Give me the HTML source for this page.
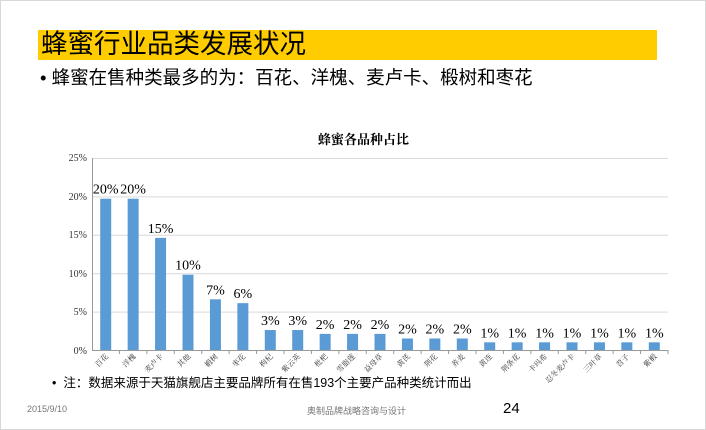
<!DOCTYPE html>
<html><head><meta charset="utf-8"><style>
body{margin:0;width:706px;height:430px;background:#fff;overflow:hidden;position:relative;font-family:"Liberation Sans","Noto Sans CJK SC",sans-serif}
.t{position:absolute;white-space:nowrap}
</style></head><body>
<div style="position:absolute;left:0;top:0;width:704px;height:428px;border:1px solid #d8d8d8"></div>
<div style="position:absolute;left:38px;top:30px;width:619px;height:30px;background:#ffcc00"></div>
<div class="t" style="left:41px;top:29px;font-size:26.5px;line-height:31px;color:#000">蜂蜜行业品类发展状况</div>
<div class="t" style="left:40px;top:65px;font-size:18.5px;line-height:26px;color:#000">• 蜂蜜在售种类最多的为：百花、洋槐、麦卢卡、椴树和枣花</div>
<div class="t" style="left:318px;top:129px;font-size:13px;font-weight:bold;font-family:'Liberation Serif','Noto Serif CJK SC',serif">蜂蜜各品种占比</div>
<svg style="position:absolute;left:0;top:0" width="706" height="430">
<g stroke="#d9d9d9" stroke-width="1">
<line x1="92" x2="668" y1="158.5" y2="158.5"/><line x1="92" x2="668" y1="196.9" y2="196.9"/><line x1="92" x2="668" y1="235.3" y2="235.3"/><line x1="92" x2="668" y1="273.7" y2="273.7"/><line x1="92" x2="668" y1="312.1" y2="312.1"/>
</g>
<line x1="92" x2="668" y1="350.5" y2="350.5" stroke="#999"/>
<line x1="92.5" x2="92.5" y1="158" y2="351" stroke="#999"/>
<g font-family="Liberation Serif" font-size="10" fill="#333" text-anchor="end">
<text x="87" y="161">25%</text><text x="87" y="200">20%</text><text x="87" y="238">15%</text><text x="87" y="277">10%</text><text x="87" y="315">5%</text><text x="87" y="354">0%</text>
</g>
<g id="bars"></g>
</svg>
<script>
var names=["百花","洋槐","麦卢卡","其他","椴树","枣花","枸杞","紫云英","枇杷","雪脂莲","益母草","黄芪","荆花","荞麦","黄连","荆条花","卡玛希","忍冬麦卢卡","三叶草","苕子","紫椴"];
var v=[19.7,19.7,14.6,9.8,6.6,6.1,2.6,2.6,2.1,2.1,2.1,1.5,1.5,1.5,1.0,1.0,1.0,1.0,1.0,1.0,1.0];
var lab=[20,20,15,10,7,6,3,3,2,2,2,2,2,2,1,1,1,1,1,1,1];
var s="",w=576/21;
for(var i=0;i<21;i++){var cx=92+w*(i+.5),h=v[i]*7.68,y=350-h;
s+='<rect x="'+(cx-5.5)+'" y="'+y+'" width="11" height="'+h+'" fill="#5b9bd5"/>';
s+='<line x1="'+(92+w*(i+1))+'" x2="'+(92+w*(i+1))+'" y1="350" y2="354" stroke="#999"/>';
s+='<text x="'+cx+'" y="'+(y-5)+'" font-family="Liberation Serif" font-size="14" text-anchor="middle" fill="#000">'+lab[i]+'%</text>';
s+='<text transform="translate('+(cx+3)+',357) rotate(-45)" font-family="Noto Serif CJK SC,serif" font-size="7.5" text-anchor="end" fill="#333">'+names[i]+'</text>';}
document.getElementById("bars").innerHTML=s;
</script>
<div class="t" style="left:52px;top:372px;font-size:12.5px;color:#000">•&nbsp; 注：数据来源于天猫旗舰店主要品牌所有在售193个主要产品种类统计而出</div>
<div class="t" style="left:27px;top:404px;font-size:9px;color:#777">2015/9/10</div>
<div class="t" style="left:307px;top:404px;font-size:9px;color:#777">奥制品牌战略咨询与设计</div>
<div class="t" style="left:503px;top:400px;font-size:15px;color:#000">24</div>
</body></html>
